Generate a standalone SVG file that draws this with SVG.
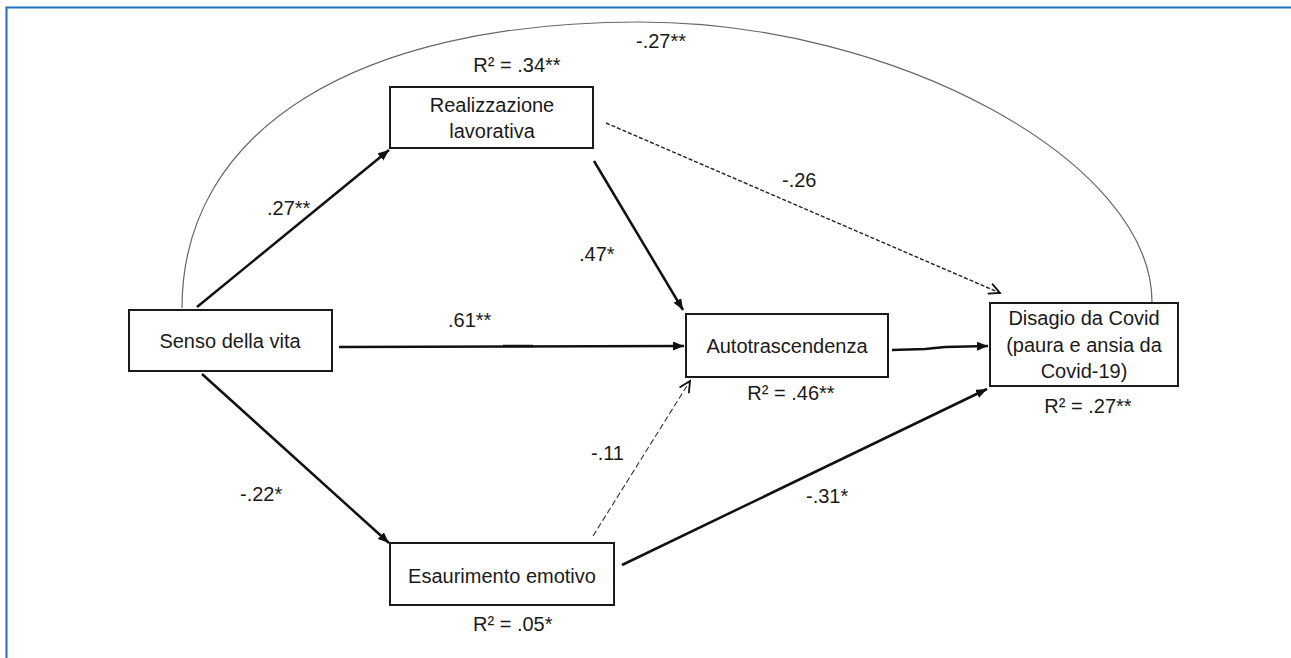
<svg xmlns="http://www.w3.org/2000/svg" width="1291" height="658" viewBox="0 0 1291 658">
  <style>
    .box { fill: #ffffff; stroke: #1a1a1a; stroke-width: 2; }
    .lbl { font-family: "Liberation Sans", Arial, sans-serif; font-size: 20px; fill: #1a1a1a; }
    .mid { text-anchor: middle; }
    .solid { fill: none; stroke: #111111; stroke-width: 2.5; }
    .dash1 { fill: none; stroke: #222222; stroke-width: 1.4; stroke-dasharray: 4 2; }
    .dash2 { fill: none; stroke: #333333; stroke-width: 1.1; stroke-dasharray: 6 3; }
    .arc { fill: none; stroke: #666666; stroke-width: 1.2; }
    .frame { fill: none; stroke: #1f6fc0; stroke-width: 2; }
  </style>
  <defs>
    <marker id="filled" markerUnits="userSpaceOnUse" markerWidth="12" markerHeight="10" refX="11" refY="4.5" orient="auto">
      <path d="M0,0 L11,4.5 L0,9 z" fill="#111111"/>
    </marker>
    <marker id="open" markerUnits="userSpaceOnUse" markerWidth="14" markerHeight="14" refX="12" refY="6" orient="auto">
      <path d="M1,0.5 L12,6 L1,11.5" fill="none" stroke="#111111" stroke-width="1.8"/>
    </marker>
  </defs>

  <rect x="0" y="0" width="1291" height="658" fill="#ffffff"/>
  <path class="frame" d="M6.5,658 V7.5 H1291"/>

  <g id="connectors">
    <path id="arc-senso-disagio" class="arc" d="M182,308 C182,130 356,22 640,22 C896,22 1152,162 1152,302"/>
    <line id="senso-realizzazione" class="solid" x1="197" y1="307" x2="389" y2="150" marker-end="url(#filled)"/>
    <line id="realizzazione-auto" class="solid" x1="594" y1="161" x2="683" y2="310" marker-end="url(#filled)"/>
    <line id="realizzazione-disagio" class="dash1" x1="606" y1="123" x2="1000" y2="293" marker-end="url(#open)"/>
    <line id="senso-auto" class="solid" x1="339" y1="347" x2="684" y2="346" marker-end="url(#filled)"/>
    <line class="solid" x1="503" y1="346" x2="533" y2="346" stroke-width="3"/>
    <line id="senso-esaurimento" class="solid" x1="202" y1="374" x2="389" y2="543" marker-end="url(#filled)"/>
    <line id="esaurimento-auto" class="dash2" x1="593" y1="536" x2="690" y2="381" marker-end="url(#open)"/>
    <line id="esaurimento-disagio" class="solid" x1="622" y1="565" x2="987" y2="389" marker-end="url(#filled)"/>
    <polyline id="auto-disagio" class="solid" points="892,350 925,349 945,347 988,346" marker-end="url(#filled)"/>
  </g>

  <g id="node-realizzazione">
    <rect class="box" x="390" y="87" width="203" height="61"/>
    <text class="lbl mid" x="492" y="112">Realizzazione</text>
    <text class="lbl mid" x="492" y="138">lavorativa</text>
  </g>
  <g id="node-senso">
    <rect class="box" x="129" y="310" width="203" height="61"/>
    <text class="lbl mid" x="230" y="348">Senso della vita</text>
  </g>
  <g id="node-autotrascendenza">
    <rect class="box" x="686" y="314" width="202" height="63"/>
    <text class="lbl mid" x="787" y="353">Autotrascendenza</text>
  </g>
  <g id="node-disagio">
    <rect class="box" x="990" y="303" width="188" height="83"/>
    <text class="lbl mid" x="1084" y="325">Disagio da Covid</text>
    <text class="lbl mid" x="1084" y="352">(paura e ansia da</text>
    <text class="lbl mid" x="1084" y="378">Covid-19)</text>
  </g>
  <g id="node-esaurimento">
    <rect class="box" x="390" y="543" width="224" height="62"/>
    <text class="lbl mid" x="502" y="583">Esaurimento emotivo</text>
  </g>

  <g id="labels">
    <text class="lbl mid" x="517" y="72">R² = .34**</text>
    <text class="lbl" x="636" y="48">-.27**</text>
    <text class="lbl" x="267" y="215">.27**</text>
    <text class="lbl" x="579" y="261">.47*</text>
    <text class="lbl" x="782" y="187">-.26</text>
    <text class="lbl" x="448" y="327">.61**</text>
    <text class="lbl mid" x="791" y="400">R² = .46**</text>
    <text class="lbl mid" x="1088" y="413">R² = .27**</text>
    <text class="lbl" x="240" y="501">-.22*</text>
    <text class="lbl" x="591" y="460">-.11</text>
    <text class="lbl" x="806" y="503">-.31*</text>
    <text class="lbl" x="473" y="631">R² = .05*</text>
  </g>
</svg>
